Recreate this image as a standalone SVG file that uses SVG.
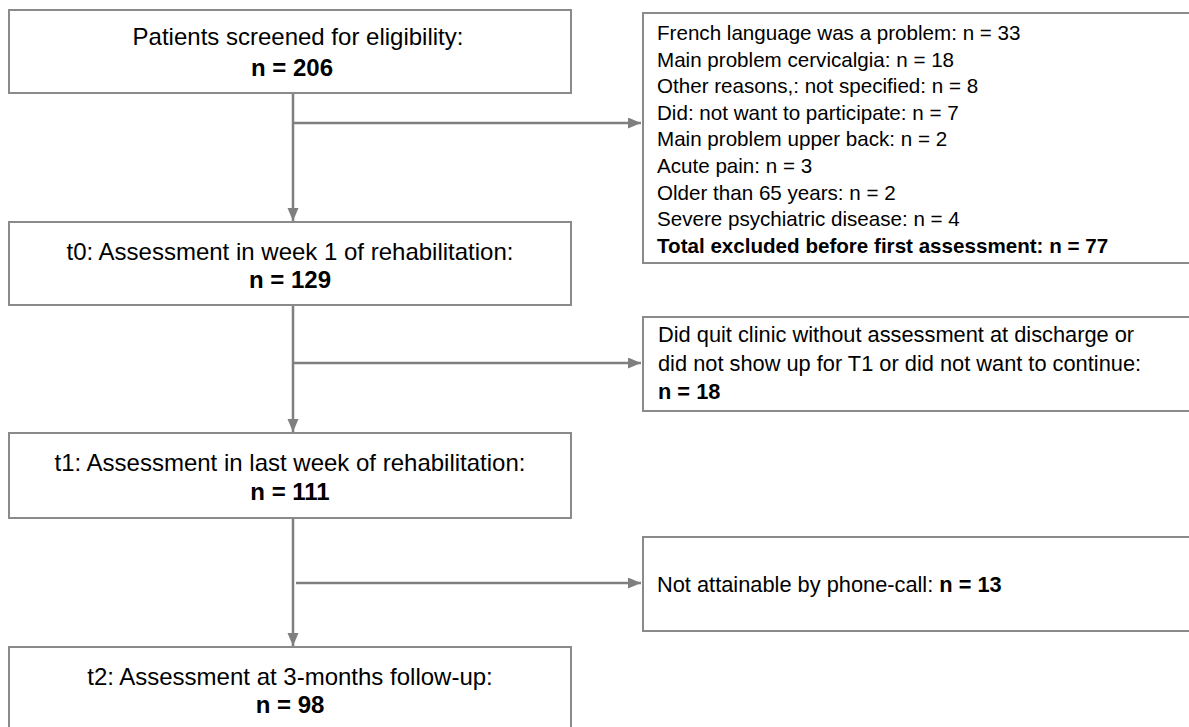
<svg xmlns="http://www.w3.org/2000/svg" width="1189" height="727" viewBox="0 0 1189 727">
<style>
.box{fill:#fff;stroke:#8a8a8a;stroke-width:2}
.conn{fill:none;stroke:#7f7f7f;stroke-width:2.5}
text{font-family:"Liberation Sans",Arial,sans-serif;fill:#000}
.c{text-anchor:middle;font-size:24px}
.r{font-size:20.6px}
.r2{font-size:21.8px}
.b{font-weight:bold}
</style>
<defs>
<marker id="ah" markerUnits="userSpaceOnUse" markerWidth="14" markerHeight="12" refX="13" refY="5.5" orient="auto">
<path d="M0,0 L13,5.5 L0,11 z" fill="#7f7f7f"/>
</marker>
</defs>
<rect width="1189" height="727" fill="#fff"/>
<g id="connectors">
<path class="conn" d="M293,93 V221" marker-end="url(#ah)"/>
<path class="conn" d="M293,123 H641" marker-end="url(#ah)"/>
<path class="conn" d="M293,305 V432" marker-end="url(#ah)"/>
<path class="conn" d="M293,363 H641" marker-end="url(#ah)"/>
<path class="conn" d="M293,518 V646" marker-end="url(#ah)"/>
<path class="conn" d="M296,583 H641" marker-end="url(#ah)"/>
</g>
<g id="screened">
<rect class="box" x="9" y="10" width="562" height="83"/>
<text class="c" x="298" y="45">Patients screened for eligibility:</text>
<text class="c b" x="292" y="76">n = 206</text>
</g>
<g id="t0">
<rect class="box" x="9" y="222" width="562" height="83"/>
<text class="c" x="290" y="260">t0: Assessment in week 1 of rehabilitation:</text>
<text class="c b" x="290" y="288">n = 129</text>
</g>
<g id="t1">
<rect class="box" x="9" y="433" width="562" height="85"/>
<text class="c" x="290" y="471">t1: Assessment in last week of rehabilitation:</text>
<text class="c b" x="290" y="500">n = 111</text>
</g>
<g id="t2">
<rect class="box" x="9" y="647" width="562" height="100"/>
<text class="c" x="290" y="685">t2: Assessment at 3-months follow-up:</text>
<text class="c b" x="290" y="713">n = 98</text>
</g>
<g id="excluded">
<rect class="box" x="643" y="13" width="560" height="250"/>
<text class="r" x="657" y="40">French language was a problem: n = 33</text>
<text class="r" x="657" y="66.6">Main problem cervicalgia: n = 18</text>
<text class="r" x="657" y="93.2">Other reasons,: not specified: n = 8</text>
<text class="r" x="657" y="119.8">Did: not want to participate: n = 7</text>
<text class="r" x="657" y="146.4">Main problem upper back: n = 2</text>
<text class="r" x="657" y="173">Acute pain: n = 3</text>
<text class="r" x="657" y="199.6">Older than 65 years: n = 2</text>
<text class="r" x="657" y="226.2">Severe psychiatric disease: n = 4</text>
<text class="r b" x="657" y="252.8">Total excluded before first assessment: n = 77</text>
</g>
<g id="quit">
<rect class="box" x="643" y="317" width="560" height="94"/>
<text class="r2" x="658" y="342">Did quit clinic without assessment at discharge or</text>
<text class="r2" x="658" y="370.5">did not show up for T1 or did not want to continue:</text>
<text class="r2 b" x="658" y="399">n = 18</text>
</g>
<g id="phone">
<rect class="box" x="643" y="537" width="560" height="94"/>
<text class="r2" x="657" y="592">Not attainable by phone-call: <tspan class="b">n = 13</tspan></text>
</g>
</svg>
